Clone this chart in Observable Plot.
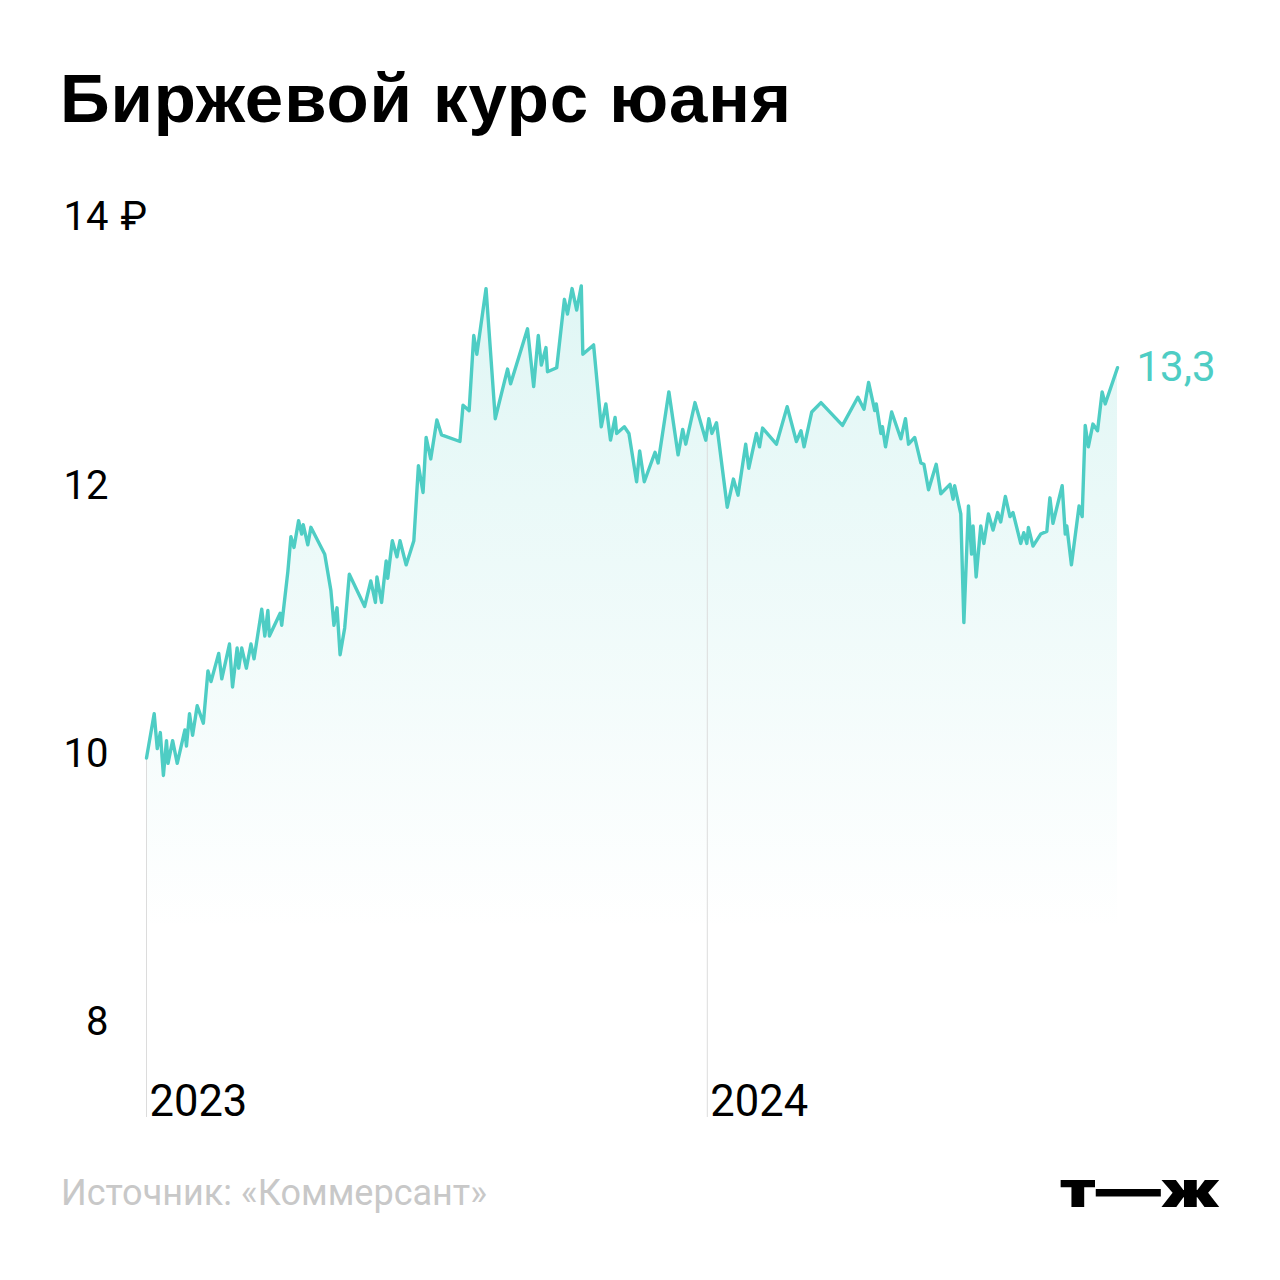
<!DOCTYPE html>
<html>
<head>
<meta charset="utf-8">
<script src="https://cdn.jsdelivr.net/npm/d3@7"></script>
<script src="https://cdn.jsdelivr.net/npm/@observablehq/plot@0.6"></script>
<style>
  html, body { margin: 0; padding: 0; background: #fff; }
  #wrap { position: relative; width: 1280px; height: 1280px; overflow: hidden; background: #fff; }
  #title { position: absolute; left: 60px; top: 64px; font-family: "Liberation Sans", Arial, sans-serif; font-weight: 700; font-size: 69px; line-height: 69px; color: #000; letter-spacing: 0.9px; white-space: nowrap; }
  #chart { position: absolute; left: 0; top: 180px; }
  #source { position: absolute; left: 61px; top: 1173px; font-family: Roboto, sans-serif; font-size: 36px; line-height: 40px; color: #c8c8c8; white-space: nowrap; }
  #logo { position: absolute; left: 1058px; top: 1160px; }
</style>
</head>
<body>
<div id="wrap">
  <div id="title">Биржевой курс юаня</div>
  <div id="chart"></div>
  <div id="source">Источник: «Коммерсант»</div>
  <div id="logo"></div>
</div>
<script>
// Days since 2023-01-01 for each observation
const days = [0,5,7,9,11,13,14,17,20,25,
  26,28,30,33,37,40,42,47,49,54,
  56,59,60,62,65,68,70,75,77,79,
  80,87,88,92,94,96,99,101,102,105,
  107,116,120,122,124,126,129,132,142,146,
  149,150,153,156,157,160,163,165,169,174,
  177,180,182,185,189,192,204,206,210,213,
  215,221,227,235,237,248,252,255,257,260,
  261,267,272,274,277,280,283,284,291,296,
  299,302,305,306,311,314,319,321,324,331,
  333,340,346,349,351,357,364,366,368,371,
  378,382,385,390,392,397,399,401,410,417,
  423,426,428,433,439,453,463,467,470,474,
  475,478,479,481,485,491,494,496,500,504,
  506,509,514,517,523,525,526,530,532,535,
  537,538,540,543,545,548,551,554,556,559,
  562,564,569,571,573,574,577,582,586,588,
  590,596,598,599,602,607,609,611,613,616,
  619,622,624,632];

// Yuan exchange rate, rubles
const rates = [9.97,10.30,10.04,10.16,9.84,10.10,9.93,10.10,9.93,10.18,
  10.06,10.30,10.14,10.36,10.23,10.62,10.54,10.75,10.56,10.82,
  10.50,10.79,10.64,10.79,10.64,10.82,10.71,11.08,10.88,11.07,
  10.88,11.05,10.96,11.36,11.62,11.54,11.74,11.64,11.71,11.56,
  11.69,11.49,11.22,10.96,11.09,10.74,10.94,11.34,11.10,11.29,
  11.13,11.32,11.13,11.44,11.31,11.59,11.47,11.59,11.41,11.59,
  12.15,11.95,12.36,12.20,12.49,12.38,12.33,12.60,12.56,13.12,
  12.98,13.47,12.50,12.87,12.76,13.17,12.74,13.12,12.90,13.03,
  12.85,12.88,13.39,13.28,13.47,13.31,13.49,12.98,13.05,12.44,
  12.61,12.34,12.51,12.39,12.44,12.39,12.03,12.26,12.03,12.25,
  12.17,12.70,12.23,12.42,12.31,12.62,12.34,12.50,12.39,12.47,
  11.84,12.05,11.93,12.31,12.13,12.39,12.29,12.43,12.31,12.59,
  12.33,12.41,12.29,12.55,12.62,12.45,12.66,12.57,12.77,12.56,
  12.61,12.39,12.44,12.29,12.55,12.35,12.50,12.31,12.36,12.17,
  12.16,11.97,12.16,11.94,12.01,11.90,12.00,11.79,10.98,11.85,
  11.49,11.70,11.32,11.70,11.57,11.79,11.67,11.80,11.73,11.92,
  11.77,11.80,11.57,11.65,11.57,11.69,11.55,11.64,11.66,11.91,
  11.72,12.00,11.64,11.70,11.41,11.85,11.77,12.45,12.29,12.46,
  12.41,12.70,12.61,12.88];

const yearTicks = ["2023-01-01", "2024-01-01"];
const yearLabels = ["2023", "2024"];
const yTicks = [8, 10, 12, 14];
const currencySign = "₽";
const lastLabel = "13,3";

const start = Date.UTC(2023, 0, 1);
const toDate = d => new Date(start + d * 86400000);
const data = days.map((d, i) => ({date: toDate(d), value: rates[i]}));
const yMin = 7.29;

// value of the line at each year boundary (for the vertical rules)
const interp = t => {
  const i = d3.bisector(d => d.date).left(data, t);
  if (i <= 0) return data[0].value;
  if (i >= data.length) return data[data.length - 1].value;
  const a = data[i - 1], b = data[i];
  const f = (t - a.date) / (b.date - a.date);
  return a.value + f * (b.value - a.value);
};
const years = yearTicks.map((s, i) => {
  const dt = new Date(s + "T00:00:00Z");
  return {date: dt, label: yearLabels[i], top: interp(dt)};
});

const teal = "#4ecdc4";
const last = data[data.length - 1];

const chart = Plot.plot({
  width: 1280,
  height: 960,
  marginLeft: 146,
  marginRight: 163,
  marginTop: 37,
  marginBottom: 23,
  style: {fontFamily: "Roboto, sans-serif", background: "transparent", overflow: "visible"},
  x: {type: "utc", domain: [toDate(0), last.date], axis: null},
  y: {domain: [yMin, 14], axis: null},
  marks: [
    Plot.areaY(data, {x: "date", y1: yMin, y2: "value", fill: "url(#areaGrad)"}),
    Plot.ruleX(years, {x: "date", y1: "top", y2: yMin, stroke: "#dcdcdc", strokeWidth: 1}),
    Plot.lineY(data, {x: "date", y: "value", stroke: teal, strokeWidth: 3.4, strokeLinejoin: "round"}),
    Plot.text([last], {x: "date", y: "value", text: () => lastLabel, textAnchor: "start", dx: 19, fill: teal, fontSize: 42, lineAnchor: "middle"}),
    Plot.text(yTicks, {y: d => d, frameAnchor: "left", text: d => String(d), textAnchor: "end", dx: -38, fill: "#000", fontSize: 40, lineAnchor: "middle"}),
    Plot.text([14], {y: d => d, frameAnchor: "left", text: () => currencySign, textAnchor: "start", dx: -26, fill: "#000", fontSize: 40, lineAnchor: "middle"}),
    Plot.text(years, {x: "date", frameAnchor: "bottom", text: "label", textAnchor: "start", dx: 3, dy: -2, fill: "#000", fontSize: 43.5, lineAnchor: "bottom"})
  ]
});

// gradient for the area
const ns = "http://www.w3.org/2000/svg";
const defs = document.createElementNS(ns, "defs");
const grad = document.createElementNS(ns, "linearGradient");
grad.setAttribute("id", "areaGrad");
grad.setAttribute("gradientUnits", "userSpaceOnUse");
grad.setAttribute("x1", "0"); grad.setAttribute("x2", "0");
grad.setAttribute("y1", "100"); grad.setAttribute("y2", "750");
[[0, 0.18], [1, 0]].forEach(([o, op]) => {
  const s = document.createElementNS(ns, "stop");
  s.setAttribute("offset", o);
  s.setAttribute("stop-color", teal);
  s.setAttribute("stop-opacity", op);
  grad.appendChild(s);
});
defs.appendChild(grad);
chart.insertBefore(defs, chart.firstChild);
document.getElementById("chart").appendChild(chart);

// logo
const logo = document.createElementNS(ns, "svg");
logo.setAttribute("width", "170");
logo.setAttribute("height", "60");
const lt = document.createElementNS(ns, "text");
lt.setAttribute("x", "2");
lt.setAttribute("y", "47");
lt.setAttribute("textLength", "160");
lt.setAttribute("lengthAdjust", "spacingAndGlyphs");
lt.setAttribute("font-family", "Inter, sans-serif");
lt.setAttribute("font-weight", "900");
lt.setAttribute("font-size", "50");
lt.setAttribute("fill", "#000");
lt.textContent = "т—ж";
logo.appendChild(lt);
document.getElementById("logo").appendChild(logo);
</script>
</body>
</html>
